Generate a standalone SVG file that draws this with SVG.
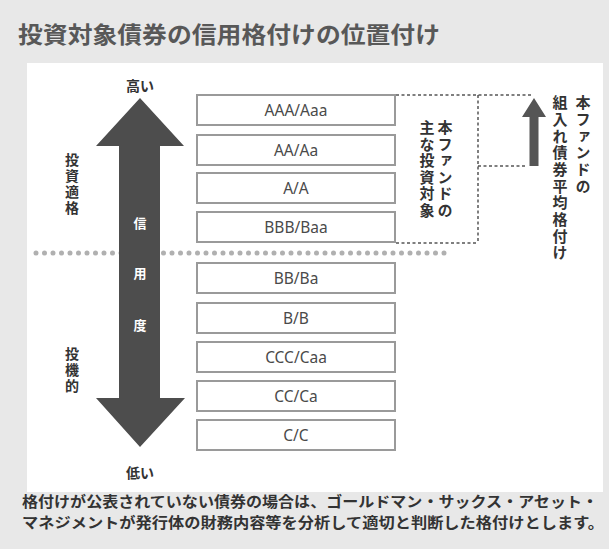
<svg xmlns="http://www.w3.org/2000/svg" width="609" height="549" viewBox="0 0 609 549">
<defs>
<style>
.jp{font-family:"Noto Sans CJK JP","Noto Sans",sans-serif;}
.lab{font-family:"Noto Sans","Open Sans",sans-serif;font-size:15.5px;fill:#4a4a4a;text-anchor:middle;}
.box{fill:#fff;stroke:#9a9a9a;stroke-width:2;}
.vt{writing-mode:vertical-rl;font-family:"Noto Sans CJK JP",sans-serif;fill:#333;font-weight:bold;}
.dash{fill:none;stroke:#555;stroke-width:1.5;stroke-dasharray:3 2.5;}
</style>
</defs>
<rect x="0" y="0" width="609" height="549" fill="#e8e8e8"/>
<rect x="27" y="63" width="576" height="429" fill="#fff"/>
<text class="jp" x="18" y="43" font-size="23" fill="#585858" font-weight="bold" textLength="422" lengthAdjust="spacingAndGlyphs">投資対象債券の信用格付けの位置付け</text>

<g id="connectors">
<line x1="36" y1="253" x2="452" y2="253" stroke="#b0b0b0" stroke-width="5" stroke-linecap="round" stroke-dasharray="0 8.5"/>
<path class="dash" d="M396,95 H532 M478,95 V243 M396,243 H478 M478,166 H527"/>
</g>

<g id="credit-arrow">
<polygon points="140,98 184,146 160,146 160,398 185,398 140,447 96,398 119,398 119,146 96,146" fill="#4d4d4d"/>
<text class="jp" x="140" y="228" font-size="13" fill="#fff" text-anchor="middle" font-weight="bold">信</text>
<text class="jp" x="140" y="278" font-size="13" fill="#fff" text-anchor="middle" font-weight="bold">用</text>
<text class="jp" x="140" y="330" font-size="13" fill="#fff" text-anchor="middle" font-weight="bold">度</text>
</g>
<g id="high"><text class="jp" x="140" y="91" font-size="14" fill="#333" text-anchor="middle" font-weight="bold">高い</text></g>
<g id="low"><text class="jp" x="140" y="478" font-size="14" fill="#333" text-anchor="middle" font-weight="bold">低い</text></g>
<g id="investment-grade"><text class="vt" x="72" y="153" font-size="14" letter-spacing="2">投資適格</text></g>
<g id="speculative"><text class="vt" x="72" y="347" font-size="14" letter-spacing="2">投機的</text></g>

<g id="r-aaa"><rect class="box" x="197" y="95" width="198" height="30"/><text class="lab" x="296" y="115.5">AAA/Aaa</text></g>
<g id="r-aa"><rect class="box" x="197" y="135" width="198" height="30"/><text class="lab" x="296" y="155.5">AA/Aa</text></g>
<g id="r-a"><rect class="box" x="197" y="173" width="198" height="30"/><text class="lab" x="296" y="193.5">A/A</text></g>
<g id="r-bbb"><rect class="box" x="197" y="212" width="198" height="30"/><text class="lab" x="296" y="232.5">BBB/Baa</text></g>
<g id="r-bb"><rect class="box" x="197" y="263" width="198" height="30"/><text class="lab" x="296" y="283.5">BB/Ba</text></g>
<g id="r-b"><rect class="box" x="197" y="303" width="198" height="30"/><text class="lab" x="296" y="323.5">B/B</text></g>
<g id="r-ccc"><rect class="box" x="197" y="342" width="198" height="30"/><text class="lab" x="296" y="362.5">CCC/Caa</text></g>
<g id="r-cc"><rect class="box" x="197" y="381" width="198" height="30"/><text class="lab" x="296" y="401.5">CC/Ca</text></g>
<g id="r-c"><rect class="box" x="197" y="420" width="198" height="30"/><text class="lab" x="296" y="440.5">C/C</text></g>

<g id="main-target">
<text class="vt" x="445" y="120" font-size="15" letter-spacing="1.5">本ファンドの</text>
<text class="vt" x="427" y="120" font-size="15" letter-spacing="1.5">主な投資対象</text>
</g>
<g id="avg-rating">
<polygon points="534,98 546,117 538.5,117 538.5,166 529.5,166 529.5,117 522,117" fill="#555"/>
<text class="vt" x="583" y="95" font-size="15" letter-spacing="1.7">本ファンドの</text>
<text class="vt" x="560" y="95" font-size="15" letter-spacing="1.7">組入れ債券平均格付け</text>
</g>

<g id="note">
<text class="jp" x="22" y="507" font-size="14.5" fill="#333" font-weight="bold" textLength="576" lengthAdjust="spacingAndGlyphs">格付けが公表されていない債券の場合は、ゴールドマン・サックス・アセット・</text>
<text class="jp" x="22" y="528" font-size="14.5" fill="#333" font-weight="bold" textLength="582" lengthAdjust="spacingAndGlyphs">マネジメントが発行体の財務内容等を分析して適切と判断した格付けとします。</text>
</g>
</svg>
